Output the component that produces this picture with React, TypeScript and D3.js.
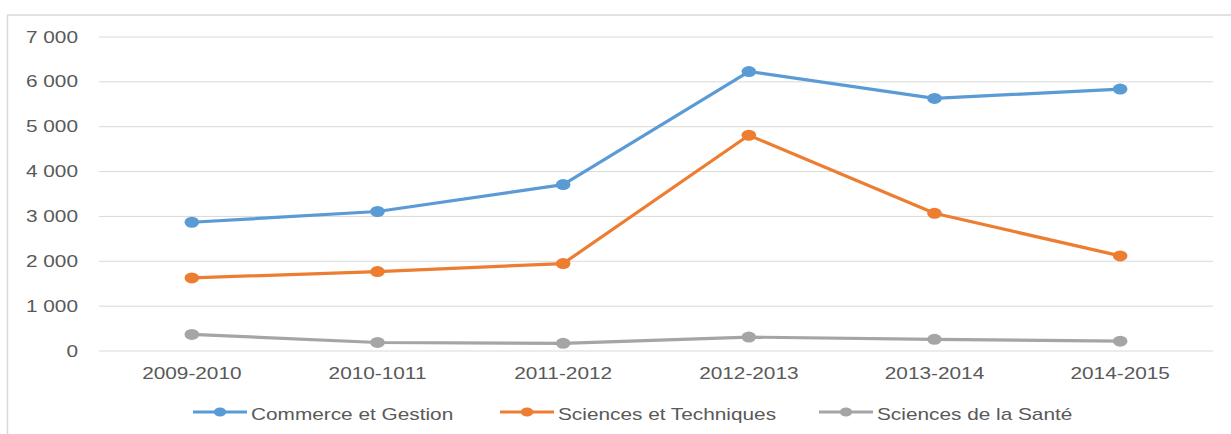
import React from "react";
import * as d3 from "d3";

const categories = ["2009-2010", "2010-1011", "2011-2012", "2012-2013", "2013-2014", "2014-2015"];
const commerce = [2870, 3110, 3710, 6230, 5630, 5840];
const sciencesTech = [1630, 1770, 1950, 4810, 3070, 2120];
const sante = [370, 190, 170, 310, 260, 220];
const yTicks = [0, 1000, 2000, 3000, 4000, 5000, 6000, 7000];
const seriesNames = ["Commerce et Gestion", "Sciences et Techniques", "Sciences de la Santé"];
const colors = ["#5B9BD5", "#ED7D31", "#A5A5A5"];

const W = 1231;
const H = 434;
const TEXT = "#595959";
const FONT = "'Liberation Sans', Arial, sans-serif";
const SX = 1.3;

export default function App() {
  const x = d3.scaleBand<string>().domain(categories).range([99, 1213]).padding(0);
  const cx = (c: string) => (x(c) as number) + x.bandwidth() / 2;
  const y = d3.scaleLinear().domain([0, 7000]).range([351, 37]);
  const fmt = (v: number) => d3.format(",")(v).replace(/,/g, " ");
  const series = [commerce, sciencesTech, sante];
  const line = d3
    .line<number>()
    .x((_, i) => cx(categories[i]))
    .y((d) => y(d));

  const legendX = [193, 500, 819];

  return (
    <svg
      width={W}
      height={H}
      style={{ position: "absolute", left: 0, top: 0, background: "#fff" }}
      fontFamily={FONT}
    >
      <rect x={0} y={0} width={W} height={H} fill="#fff" />
      <rect x={7.5} y={15} width={W + 50} height={H + 50} fill="none" stroke="#D9D9D9" strokeWidth={1.5} />
      {yTicks.map((t) => (
        <g key={t}>
          <line x1={99} x2={1213} y1={y(t)} y2={y(t)} stroke="#D9D9D9" strokeWidth={1} />
          <text
            transform={`translate(78,${y(t) + 5.5}) scale(${SX},1)`}
            textAnchor="end"
            fontSize={16}
            fill={TEXT}
          >
            {fmt(t)}
          </text>
        </g>
      ))}
      {categories.map((c) => (
        <text
          key={c}
          transform={`translate(${cx(c)},379) scale(${SX},1)`}
          textAnchor="middle"
          fontSize={16}
          fill={TEXT}
        >
          {c}
        </text>
      ))}
      {series.map((s, si) => (
        <g key={si}>
          <path d={line(s) || ""} fill="none" stroke={colors[si]} strokeWidth={3.2} strokeLinejoin="round" />
          {s.map((v, i) => (
            <ellipse key={i} cx={cx(categories[i])} cy={y(v)} rx={7.3} ry={5.5} fill={colors[si]} />
          ))}
        </g>
      ))}
      {seriesNames.map((n, i) => (
        <g key={n}>
          <line x1={legendX[i]} x2={legendX[i] + 54} y1={412} y2={412} stroke={colors[i]} strokeWidth={3.2} />
          <ellipse cx={legendX[i] + 27} cy={412} rx={6.2} ry={4.6} fill={colors[i]} />
          <text
            transform={`translate(${legendX[i] + 58},420) scale(${SX},1)`}
            fontSize={16}
            fill={TEXT}
          >
            {n}
          </text>
        </g>
      ))}
    </svg>
  );
}
